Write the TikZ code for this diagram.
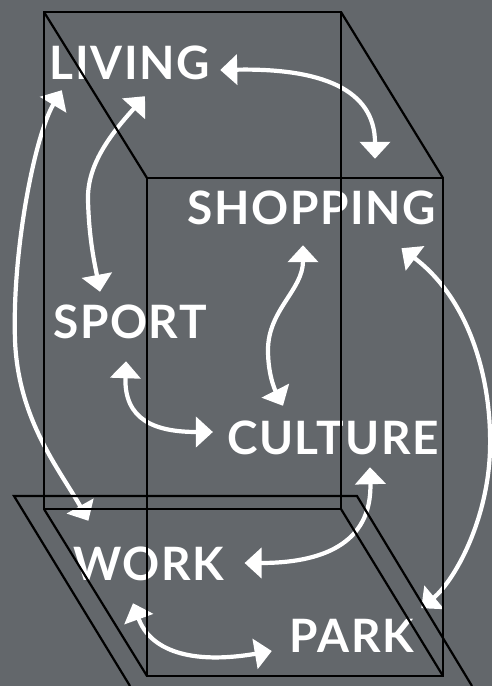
\documentclass[tikz,border=0pt]{standalone}
\usepackage{fontspec}
\setmainfont{Lato}
\usetikzlibrary{arrows.meta}
\definecolor{bggray}{HTML}{63676b}

\tikzset{
    zone/.style = {text = white, inner sep = 0pt, font = \fontsize{46}{46}\selectfont\bfseries\addfontfeatures{LetterSpace = 3.5}},
    link/.style = {{Triangle[length = 17pt, width = 30pt]}-{Triangle[length = 17pt, width = 30pt]}, line width = 4.2pt, draw = white},
    frame/.style = {draw = black, line width = 2.2pt, line join = miter}
}

\begin{document}
\begin{tikzpicture}[x = 1pt, y = -1pt]
        % Background
        \fill [bggray] (0, 0) rectangle (492, 686);
        \useasboundingbox (0, 0) rectangle (492, 686);

        % Nodes
        \node [zone] (living) at (130, 63) {LIVING};
        \node [zone] (shopping) at (312, 208) {SHOPPING};
        \node [zone] (sport) at (130, 322) {SPORT};
        \node [zone] (culture) at (333, 438) {CULTURE};
        \node [zone] (work) at (149, 564) {WORK};
        \node [zone] (park) at (352, 636) {PARK};

        % Draw the links
        \draw [link] ([shift = {(10, 7)}] living.east) .. controls +(100, -2) and +(0, -70) .. ([shift = {(63, -32)}] shopping.north);
        \draw [link] ([shift = {(15, 16)}] living.south) .. controls (110, 135) and (87, 165) .. (88, 200) .. controls (89, 240) and (95, 265) .. ([shift = {(-30, -13)}] sport.north);
        \draw [link] ([shift = {(12, 10)}] living.south west) .. controls (35, 135) and (12, 250) .. (15, 340) .. controls (18, 420) and (60, 470) .. ([shift = {(15, -26)}] work.north west);
        \draw [link] ([shift = {(-9, 20)}] shopping.south) .. controls (303, 290) and (268, 310) .. (268, 350) .. controls (268, 375) and (275, 390) .. ([shift = {(-50, -15)}] culture.north);
        \draw [link] ([shift = {(-35, 23)}] shopping.south east) .. controls (470, 300) and (492, 380) .. (490, 450) .. controls (488, 520) and (455, 580) .. ([shift = {(7, -11)}] park.north east);
        \draw [link] ([shift = {(-4, 22)}] sport.south) .. controls (124, 420) and (155, 432) .. ([shift = {(-14, -6)}] culture.west);
        \draw [link] ([shift = {(37, 12)}] culture.south) .. controls (372, 545) and (320, 563) .. ([shift = {(20, -1)}] work.east);
        \draw [link] ([shift = {(-16, 22)}] work.south) .. controls (150, 650) and (190, 665) .. ([shift = {(-18, 15)}] park.west);

        % Box
        \draw [frame] (44, 509) -- (44, 12) -- (341, 12) -- (341, 509) -- cycle;
        \draw [frame] (147, 178) rectangle (443, 676);
        \draw [frame] (44, 12) -- (147, 178);
        \draw [frame] (341, 12) -- (443, 178);
        \draw [frame] (44, 509) -- (147, 676);
        \draw [frame] (341, 509) -- (443, 676);

        % Ground
        \draw [frame] (130, 686) -- (14, 496) -- (357, 496) -- (472, 686);
    \end{tikzpicture}
\end{document}
